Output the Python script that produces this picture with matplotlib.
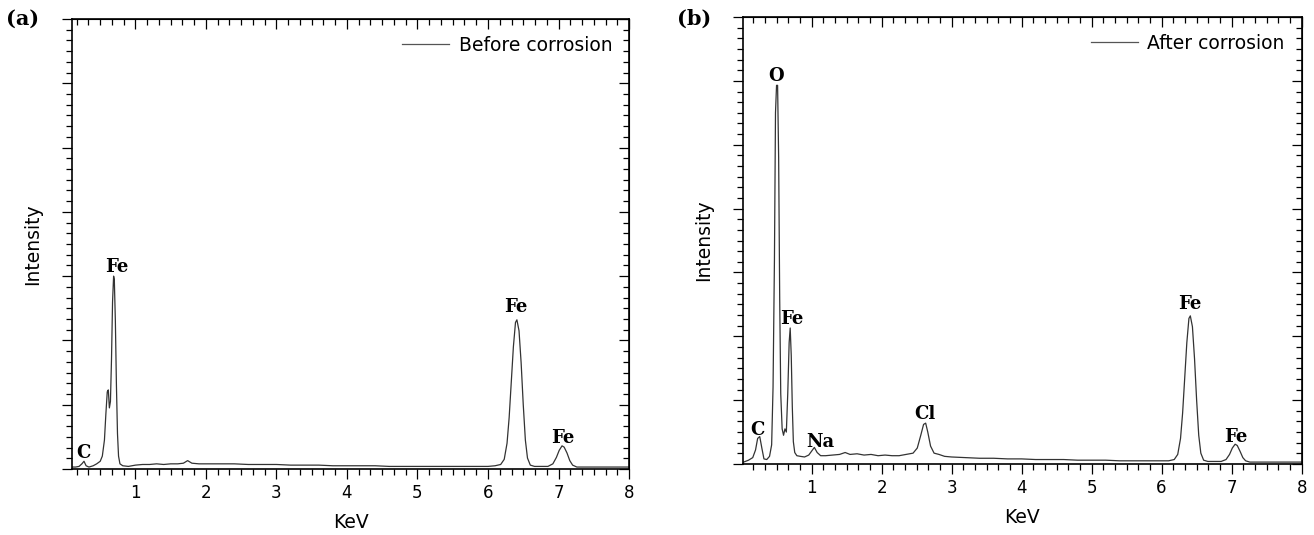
import numpy as np
import matplotlib
matplotlib.use('Agg')
import matplotlib.pyplot as plt
from matplotlib.ticker import MultipleLocator

# EDS spectra, intensity in arbitrary units (1 unit = one major y tick)
a_kev = [0.10, 0.15, 0.20, 0.24, 0.27, 0.30, 0.34, 0.40, 0.45, 0.50, 0.53, 0.56, 0.58, 0.60, 0.615,
         0.63, 0.645, 0.66, 0.675, 0.69, 0.70, 0.715, 0.73, 0.745, 0.76, 0.78, 0.82, 0.90, 1.00, 1.10,
         1.20, 1.30, 1.40, 1.50, 1.60, 1.68, 1.74, 1.80, 1.90, 2.00, 2.20, 2.40, 2.60, 2.80, 3.00,
         3.20, 3.40, 3.60, 3.80, 4.00, 4.20, 4.40, 4.60, 4.80, 5.00, 5.20, 5.40, 5.60, 5.80, 6.00,
         6.10, 6.18, 6.23, 6.27, 6.30, 6.33, 6.36, 6.39, 6.41, 6.44, 6.47, 6.50, 6.53, 6.56, 6.60,
         6.66, 6.75, 6.85, 6.92, 6.97, 7.01, 7.05, 7.08, 7.12, 7.16, 7.20, 7.26, 7.35, 7.50, 7.70,
         7.85, 8.00]
a_int = [0.03, 0.03, 0.04, 0.08, 0.12, 0.05, 0.03, 0.05, 0.08, 0.12, 0.20, 0.45, 0.85, 1.20, 1.23,
         0.95, 1.05, 1.70, 2.60, 3.00, 2.95, 2.30, 1.30, 0.55, 0.20, 0.08, 0.05, 0.04, 0.06, 0.07,
         0.07, 0.08, 0.07, 0.08, 0.08, 0.09, 0.13, 0.09, 0.08, 0.08, 0.08, 0.08, 0.07, 0.07, 0.07,
         0.06, 0.06, 0.06, 0.05, 0.05, 0.05, 0.05, 0.04, 0.04, 0.04, 0.04, 0.04, 0.04, 0.04, 0.04,
         0.05, 0.07, 0.15, 0.40, 0.80, 1.35, 1.90, 2.28, 2.32, 2.15, 1.65, 1.00, 0.45, 0.17, 0.06,
         0.04, 0.04, 0.04, 0.08, 0.18, 0.29, 0.36, 0.34, 0.25, 0.13, 0.06, 0.03, 0.03, 0.03, 0.03,
         0.03, 0.03]

b_kev = [0.03, 0.10, 0.16, 0.20, 0.23, 0.26, 0.29, 0.32, 0.36, 0.40, 0.43, 0.45, 0.47, 0.485, 0.50,
         0.515, 0.53, 0.545, 0.56, 0.58, 0.60, 0.62, 0.64, 0.66, 0.68, 0.695, 0.71, 0.725, 0.74, 0.76,
         0.79, 0.84, 0.90, 0.96, 1.00, 1.04, 1.08, 1.13, 1.20, 1.30, 1.40, 1.48, 1.55, 1.65, 1.75,
         1.85, 1.95, 2.05, 2.15, 2.25, 2.35, 2.45, 2.51, 2.56, 2.60, 2.63, 2.66, 2.70, 2.75, 2.82,
         2.90, 3.00, 3.20, 3.40, 3.60, 3.80, 4.00, 4.20, 4.40, 4.60, 4.80, 5.00, 5.20, 5.40, 5.60,
         5.80, 6.00, 6.10, 6.18, 6.23, 6.27, 6.30, 6.33, 6.36, 6.39, 6.41, 6.44, 6.47, 6.50, 6.53,
         6.56, 6.60, 6.66, 6.75, 6.85, 6.92, 6.97, 7.01, 7.05, 7.08, 7.12, 7.16, 7.20, 7.26, 7.35,
         7.50, 7.70, 7.85, 8.00]
b_int = [0.03, 0.06, 0.10, 0.22, 0.40, 0.43, 0.25, 0.08, 0.07, 0.12, 0.30, 1.20, 3.20, 5.50, 5.93,
         5.93, 4.80, 2.60, 1.10, 0.55, 0.45, 0.55, 0.50, 1.10, 1.90, 2.13, 1.70, 0.90, 0.35, 0.18,
         0.13, 0.12, 0.11, 0.14, 0.20, 0.26, 0.18, 0.13, 0.13, 0.14, 0.15, 0.18, 0.15, 0.16, 0.14,
         0.15, 0.13, 0.14, 0.13, 0.13, 0.15, 0.17, 0.25, 0.45, 0.62, 0.64, 0.50, 0.28, 0.17, 0.15,
         0.12, 0.11, 0.10, 0.09, 0.09, 0.08, 0.08, 0.07, 0.07, 0.07, 0.06, 0.06, 0.06, 0.05, 0.05,
         0.05, 0.05, 0.05, 0.07, 0.15, 0.40, 0.80, 1.35, 1.90, 2.28, 2.32, 2.15, 1.65, 1.00, 0.45,
         0.17, 0.06, 0.04, 0.04, 0.04, 0.07, 0.15, 0.25, 0.31, 0.29, 0.20, 0.10, 0.05, 0.03, 0.03,
         0.03, 0.03, 0.03, 0.03]

# peak labels: (text, keV, intensity)
a_peaks = [('C', 0.26, 0.17), ('Fe', 0.73, 3.06), ('Fe', 6.40, 2.44), ('Fe', 7.06, 0.40)]
b_peaks = [('C', 0.23, 0.45), ('O', 0.50, 6.0), ('Fe', 0.72, 2.2), ('Na', 1.12, 0.26),
           ('Cl', 2.62, 0.70), ('Fe', 6.40, 2.42), ('Fe', 7.06, 0.35)]

xticks = [1, 2, 3, 4, 5, 6, 7, 8]

plt.rcParams['font.family'] = 'DejaVu Sans'
fig = plt.figure(figsize=(13.14, 5.35), dpi=100)
ax1 = fig.add_axes([0.0548, 0.1234, 0.4239, 0.8411])
ax2 = fig.add_axes([0.5654, 0.1327, 0.4252, 0.8355])

panels = [(ax1, a_kev, a_int, 'Before corrosion', a_peaks, '(a)', 0.10),
          (ax2, b_kev, b_int, 'After corrosion', b_peaks, '(b)', 0.02)]

for ax, kev, inten, lab, peaks, tag, x0 in panels:
    ax.plot(kev, inten, '-', color='#333333', lw=0.9, label=lab)
    ax.set_xlim(x0, 8)
    ax.set_ylim(0, 7)
    ax.set_xticks(xticks)
    ax.xaxis.set_minor_locator(MultipleLocator(1/6))
    ax.yaxis.set_major_locator(MultipleLocator(1))
    ax.yaxis.set_minor_locator(MultipleLocator(1/6))
    ax.set_yticklabels([])
    ax.tick_params(which='both', direction='out', top=False, right=False, width=0.9, labelsize=12)
    ax.tick_params(which='major', length=7)
    ax.tick_params(which='minor', length=4)
    for s in ax.spines.values():
        s.set_linewidth(1.2)
    # inward ticks on top and right
    top = ax.secondary_xaxis('top')
    top.set_xticks(xticks)
    top.xaxis.set_minor_locator(MultipleLocator(1/6))
    top.tick_params(which='both', direction='in', labeltop=False, width=0.9)
    top.tick_params(which='major', length=7)
    top.tick_params(which='minor', length=4)
    right = ax.secondary_yaxis('right')
    right.yaxis.set_major_locator(MultipleLocator(1))
    right.yaxis.set_minor_locator(MultipleLocator(1/6))
    right.tick_params(which='both', direction='in', labelright=False, width=0.9)
    right.tick_params(which='major', length=7)
    right.tick_params(which='minor', length=4)

    ax.set_xlabel('KeV', fontsize=13.5, labelpad=8)
    ax.set_ylabel('Intensity', fontsize=13.5, labelpad=11)
    for txt, x, y in peaks:
        ax.text(x, y, txt, family='DejaVu Serif', fontweight='bold', fontsize=13,
                ha='center', va='baseline')
    leg = ax.legend(loc='upper right', frameon=False, fontsize=13.5, handlelength=2.5,
                    handletextpad=0.5, borderaxespad=0.5)
    leg.get_lines()[0].set_color('#555555')
    bb = ax.get_position()
    fig.text(bb.x0 - 0.05, 0.965, tag, family='DejaVu Serif', fontweight='bold',
             fontsize=15, ha='left', va='center')

fig.savefig('out.png', dpi=100)
